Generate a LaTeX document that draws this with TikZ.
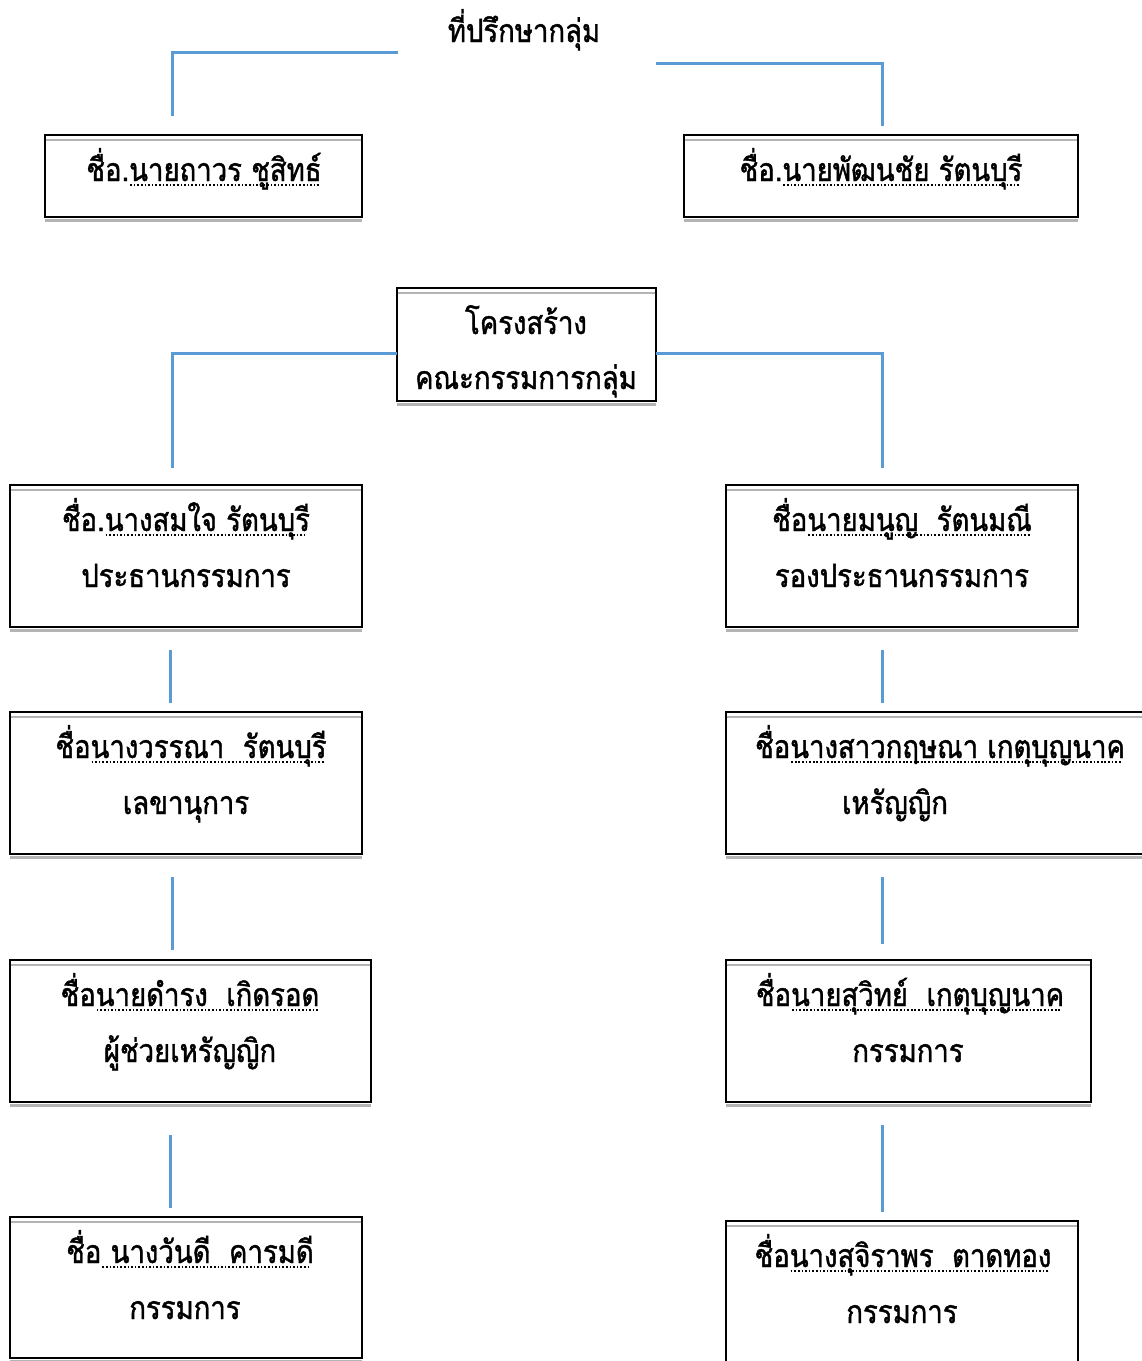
\documentclass[tikz,border=0pt]{standalone}
\usepackage{fontspec}
\newfontfamily\thaifont[Script=Thai,FakeStretch=0.86,FakeBold=1.3]{Loma}
\definecolor{connblue}{HTML}{5B9BD5}
\definecolor{shadegray}{HTML}{B4B4B4}
\newcommand\dotu[1]{\setbox0=\hbox{#1}\rlap{\raisebox{-4.5pt}{\hbox to\wd0{\leaders\hbox to 3.6pt{\hss\rule{1.7pt}{1.5pt}\hss}\hfill}}}\box0}
\newcommand\mkbox[5]{\node[box,minimum width={#4-#2},minimum height={#5-#3}] (#1) at ({(#2+#4)/2},{(#3+#5)/2}) {};
  \draw[shadeline] ([xshift=1.3pt,yshift=-5pt]#1.north west) -- ([xshift=-1.3pt,yshift=-5pt]#1.north east);
  \draw[shadeline] ([yshift=-3.4pt]#1.south west) -- ([yshift=-3.4pt]#1.south east);}
\begin{document}
\begin{tikzpicture}[x=1pt,y=-1pt,
  box/.style={draw=black,line width=2.4pt,inner sep=0pt,outer sep=0pt},
  shadeline/.style={draw=shadegray,line width=2.2pt},
  lbl/.style={anchor=base,inner sep=0pt,font=\thaifont\fontsize{32}{36}\selectfont},
  conn/.style={draw=connblue,line width=3pt}]
\clip (0,0) rectangle (1142,1361);
\fill[white] (0,0) rectangle (1142,1361);
% title
\node[lbl] (T) at (524,42) {ที่ปรึกษากลุ่ม};
% boxes
\mkbox{A}{45}{135}{362}{217}
\mkbox{B}{684}{135}{1078}{217}
\mkbox{C}{397}{288}{656}{401}
\mkbox{L1}{10}{485}{362}{627}
\mkbox{R1}{726}{485}{1078}{627}
\mkbox{L2}{10}{712}{362}{854}
\mkbox{R2}{726}{712}{1160}{854}
\mkbox{L3}{10}{960}{371}{1102}
\mkbox{R3}{726}{960}{1091}{1102}
\mkbox{L4}{10}{1217}{362}{1358}
\mkbox{R4}{726}{1221}{1078}{1400}
% texts
\node[lbl] (At) at (204,181) {ชื่อ.\dotu{นายถาวร ชูสิทธ์}};
\node[lbl] (Bt) at (881,181) {ชื่อ.\dotu{นายพัฒนชัย รัตนบุรี}};
\node[lbl] (Ct1) at (526,334) {โครงสร้าง};
\node[lbl] (Ct2) at (526,389) {คณะกรรมการกลุ่ม};
\node[lbl] (L1t1) at (186,531) {ชื่อ.\dotu{นางสมใจ รัตนบุรี}};
\node[lbl] (L1t2) at (186,587) {ประธานกรรมการ};
\node[lbl] (R1t1) at (902,531) {ชื่อ\dotu{นายมนูญ\ \ รัตนมณี}};
\node[lbl] (R1t2) at (902,587) {รองประธานกรรมการ};
\node[lbl] (L2t1) at (191,758) {ชื่อ\dotu{นางวรรณา\ \ รัตนบุรี}};
\node[lbl] (L2t2) at (186,814) {เลขานุการ};
\node[lbl] (R2t1) at (940,758) {ชื่อ\dotu{นางสาวกฤษณา เกตุบุญนาค}};
\node[lbl] (R2t2) at (895,814) {เหรัญญิก};
\node[lbl] (L3t1) at (190,1006) {ชื่อ\dotu{นายดำรง\ \ เกิดรอด}};
\node[lbl] (L3t2) at (190,1062) {ผู้ช่วยเหรัญญิก};
\node[lbl] (R3t1) at (910,1006) {ชื่อ\dotu{นายสุวิทย์\ \ เกตุบุญนาค}};
\node[lbl] (R3t2) at (908,1062) {กรรมการ};
\node[lbl] (L4t1) at (190,1263) {ชื่อ\dotu{ นางวันดี\ \ คารมดี}};
\node[lbl] (L4t2) at (185,1319) {กรรมการ};
\node[lbl] (R4t1) at (903,1267) {ชื่อ\dotu{นางสุจิราพร\ \ ตาดทอง}};
\node[lbl] (R4t2) at (902,1323) {กรรมการ};
% connectors
\coordinate (k1) at (398,52);  \coordinate (k2) at (172,116);
\coordinate (k3) at (656,63);  \coordinate (k4) at (882,126);
\coordinate (k5) at (172,468); \coordinate (k6) at (882,468);
\draw[conn] (k1) -| (k2);
\draw[conn] (k3) -| (k4);
\draw[conn] (C.west |- 0,353) -| (k5);
\draw[conn] (C.east |- 0,353) -| (k6);
\coordinate (v1a) at (170,650);  \coordinate (v1b) at (170,703);
\coordinate (v2a) at (172,877);  \coordinate (v2b) at (172,950);
\coordinate (v3a) at (170,1135); \coordinate (v3b) at (170,1208);
\coordinate (w1a) at (882,650);  \coordinate (w1b) at (882,703);
\coordinate (w2a) at (882,877);  \coordinate (w2b) at (882,944);
\coordinate (w3a) at (882,1125); \coordinate (w3b) at (882,1212);
\draw[conn] (v1a) -- (v1b);
\draw[conn] (v2a) -- (v2b);
\draw[conn] (v3a) -- (v3b);
\draw[conn] (w1a) -- (w1b);
\draw[conn] (w2a) -- (w2b);
\draw[conn] (w3a) -- (w3b);
\end{tikzpicture}
\end{document}
